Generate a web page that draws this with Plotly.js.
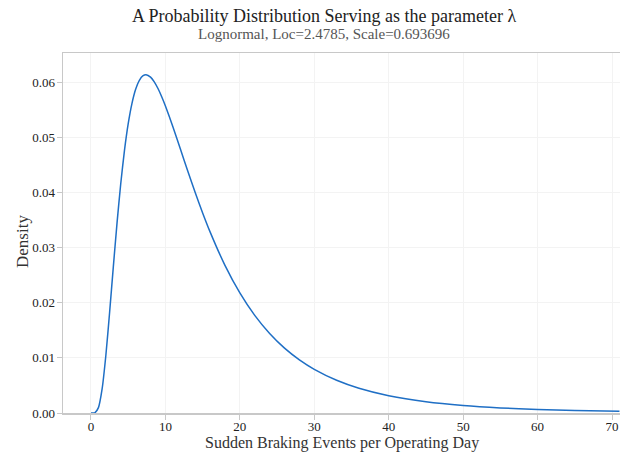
<!DOCTYPE html>
<html>
<head>
<meta charset="utf-8">
<script src="https://cdn.plot.ly/plotly-3.0.1.min.js"></script>
<style>html,body{margin:0;padding:0;background:#fff;}#chart{width:620px;height:454px;}</style>
</head>
<body>
<div id="chart"></div>
<script>
// Values (events per day vs. density)
const xValues = [0, 0.25, 0.5, 1, 1.5, 2, 2.5, 3, 3.5, 4, 4.5, 5, 5.5, 6, 6.5, 7, 7.4, 8, 8.5, 9, 9.5, 10, 11, 12, 13, 14, 15, 16, 18, 20, 22, 24, 26, 28, 30, 33, 36, 40, 45, 50, 55, 60, 65, 71];
const densityValues = [0, 0.0000002, 0.000033, 0.000972, 0.00441, 0.01048, 0.018219, 0.02651, 0.034488, 0.041628, 0.047649, 0.052475, 0.056131, 0.058719, 0.060356, 0.061186, 0.061352, 0.060924, 0.060068, 0.058857, 0.057375, 0.05569, 0.05193, 0.047923, 0.043896, 0.039992, 0.036297, 0.032855, 0.026787, 0.021777, 0.017701, 0.014411, 0.011762, 0.009632, 0.007915, 0.005937, 0.004492, 0.003138, 0.002044, 0.00136, 0.000922, 0.000636, 0.000446, 0.000297];
const xTicks = [0, 10, 20, 30, 40, 50, 60, 70];
const yTicks = [0, 0.01, 0.02, 0.03, 0.04, 0.05, 0.06];
const yTickLabels = ["0.00", "0.01", "0.02", "0.03", "0.04", "0.05", "0.06"];
const titleText = "A Probability Distribution Serving as the parameter λ";
const subtitleText = "Lognormal, Loc=2.4785, Scale=0.693696";
const xTitle = "Sudden Braking Events per Operating Day";
const yTitle = "Density";

const FONT = "Liberation Serif";

const trace = {
  x: xValues,
  y: densityValues,
  type: 'scatter',
  mode: 'lines',
  line: {color: '#1f6fc5', width: 1.5, shape: 'spline', smoothing: 0.6},
  hoverinfo: 'skip'
};

const axisCommon = {
  showline: true,
  linecolor: '#c8c8c8',
  linewidth: 1.5,
  ticks: 'outside',
  ticklen: 5,
  tickcolor: '#c8c8c8',
  gridcolor: '#f3f3f3',
  gridwidth: 1,
  zeroline: false,
  automargin: false,
  tickfont: {family: FONT, size: 13, color: '#222'}
};

const layout = {
  width: 620,
  height: 454,
  paper_bgcolor: '#fff',
  plot_bgcolor: '#fff',
  margin: {l: 63, r: 0, t: 53, b: 41},
  showlegend: false,
  font: {family: FONT, color: '#222'},
  xaxis: Object.assign({}, axisCommon, {
    range: [-3.76, 71.07],
    tickvals: xTicks,
    ticktext: xTicks.map(String),
    mirror: true,
    ticklabelstandoff: -4
  }),
  yaxis: Object.assign({}, axisCommon, {
    range: [0, 0.0653],
    tickvals: yTicks,
    ticktext: yTickLabels,
    ticklabelstandoff: -1
  }),
  annotations: [
    {text: titleText, xref: 'paper', yref: 'paper', x: 0.4686, y: 1 + (53 - 16) / 360,
     xanchor: 'center', yanchor: 'middle', showarrow: false,
     font: {family: FONT, size: 18, color: '#222'}},
    {text: subtitleText, xref: 'paper', yref: 'paper', x: 0.4686, y: 1 + (53 - 34) / 360,
     xanchor: 'center', yanchor: 'middle', showarrow: false,
     font: {family: FONT, size: 15, color: '#555'}},
    {text: xTitle, xref: 'paper', yref: 'paper', x: 0.5, y: -(443 - 413) / 360,
     xanchor: 'center', yanchor: 'middle', showarrow: false,
     font: {family: FONT, size: 16, color: '#333'}},
    {text: yTitle, xref: 'paper', yref: 'paper', x: -(63 - 22) / 557, y: (413 - 242) / 360,
     xanchor: 'center', yanchor: 'middle', showarrow: false, textangle: -90,
     font: {family: FONT, size: 17, color: '#333'}}
  ]
};

Plotly.newPlot('chart', [trace], layout, {displayModeBar: false, staticPlot: true});
</script>
</body>
</html>
